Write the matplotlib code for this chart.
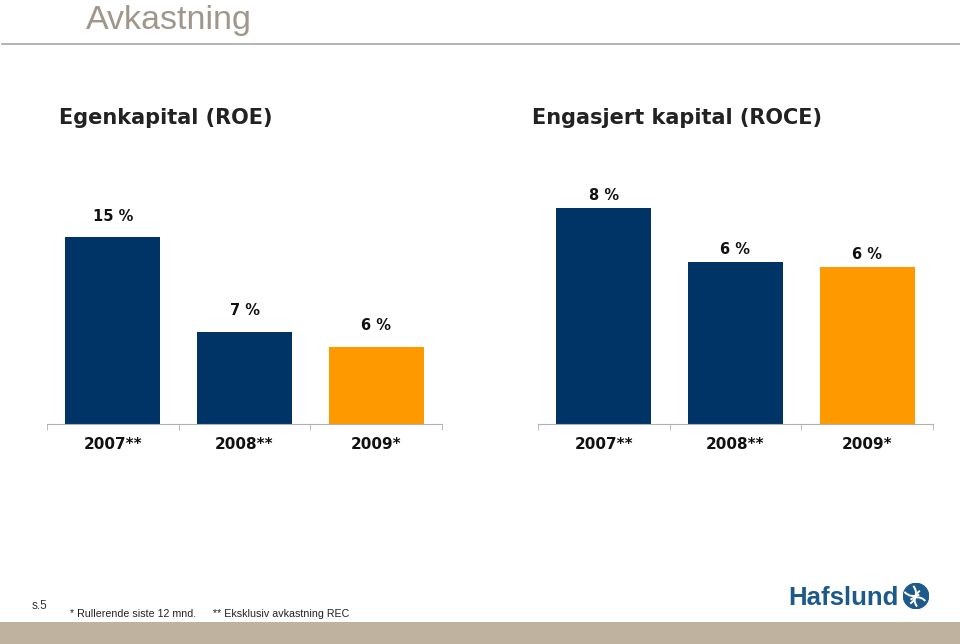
import numpy as np
import matplotlib.pyplot as plt
from matplotlib.patches import Rectangle, Circle, Arc

# data
years = ["2007**", "2008**", "2009*"]
roe = [15.0, 7.4, 6.2]
roce = [8.0, 6.0, 5.8]
roe_labels = ["15 %", "7 %", "6 %"]
roce_labels = ["8 %", "6 %", "6 %"]

navy = "#003366"
orange = "#ff9900"
colors = [navy, navy, orange]

W, H = 960, 644
fig = plt.figure(figsize=(9.6, 6.44), dpi=100)

def px(x0, y0, x1, y1):
    # pixel box (top-left origin) -> figure fraction rect
    return [x0 / W, 1 - y1 / H, (x1 - x0) / W, (y1 - y0) / H]

# header
fig.text(86 / W, 1 - 21 / H, "Avkastning", fontsize=24.5, color="#a0968c",
         family="Liberation Sans", va="center", ha="left")
fig.add_artist(plt.Line2D([2 / W, 1], [1 - 44 / H, 1 - 44 / H], color="#a8a8a8", lw=1.2))

def panel(rect, vals, labels, ytop, off, title, tx):
    ax = fig.add_axes(rect)
    x = np.arange(len(vals))
    ax.bar(x, vals, width=0.72, color=colors)
    for xi, v, lab in zip(x, vals, labels):
        ax.annotate(lab, (xi, v), xytext=(0, off), textcoords="offset points",
                    ha="center", va="center", fontsize=10.5, fontweight="bold", color="#111111")
    ax.set_xlim(-0.5, len(vals) - 0.5)
    ax.set_ylim(0, ytop)
    for s in ["top", "left", "right"]:
        ax.spines[s].set_visible(False)
    ax.spines["bottom"].set_color("#b0b0b0")
    ax.set_yticks([])
    ax.set_xticks(x)
    ax.set_xticklabels(years, fontsize=11, fontweight="bold", color="#111111")
    ax.tick_params(axis="x", which="major", length=0, pad=9.5)
    ax.set_xticks(np.arange(len(vals) + 1) - 0.5, minor=True)
    ax.tick_params(axis="x", which="minor", length=4, color="#b0b0b0")
    fig.text(tx / W, 1 - 118 / H, title, fontsize=15, fontweight="bold",
             color="#222222", ha="center", va="center")
    return ax

panel(px(47, 190, 442, 424), roe, roe_labels, 18.77, 15, "Egenkapital (ROE)", 166)
panel(px(538, 190, 933, 424), roce, roce_labels, 8.67, 9, "Engasjert kapital (ROCE)", 677)

# footer
fig.add_artist(Rectangle((0, 0), 1, 22 / H, transform=fig.transFigure,
                         color="#bfb39f", lw=0))
fig.text(32 / W, 1 - 606 / H, "s.5", fontsize=8.5, color="#333333",
         family="Liberation Sans", va="center")
fig.text(70 / W, 1 - 614 / H, "* Rullerende siste 12 mnd.", fontsize=7.7,
         color="#222222", family="Liberation Sans", va="center")
fig.text(213 / W, 1 - 614 / H, "** Eksklusiv avkastning REC", fontsize=7.7,
         color="#222222", family="Liberation Sans", va="center")

# logo
logo_blue = "#1d5a8c"
fig.text(788 / W, 1 - 598 / H, "Hafslund", fontsize=18.5, color=logo_blue,
         family="Liberation Sans", fontweight="bold", va="center", ha="left")
lax = fig.add_axes(px(903, 583, 929, 609))
lax.set_xlim(-1, 1)
lax.set_ylim(-1, 1)
lax.set_aspect("equal")
lax.axis("off")
lax.add_patch(Circle((0, 0), 0.97, color=logo_blue))
for cx, cy, r, a0, a1 in [(-0.9, 0.2, 0.9, -60, 40), (-0.2, 0.9, 0.9, 220, 300),
                          (0.7, -0.3, 0.8, 120, 220), (0.1, -0.9, 0.8, 40, 130)]:
    lax.add_patch(Arc((cx, cy), 2 * r, 2 * r, theta1=a0, theta2=a1, color="white", lw=1.4))

fig.savefig("out.png", dpi=100)
